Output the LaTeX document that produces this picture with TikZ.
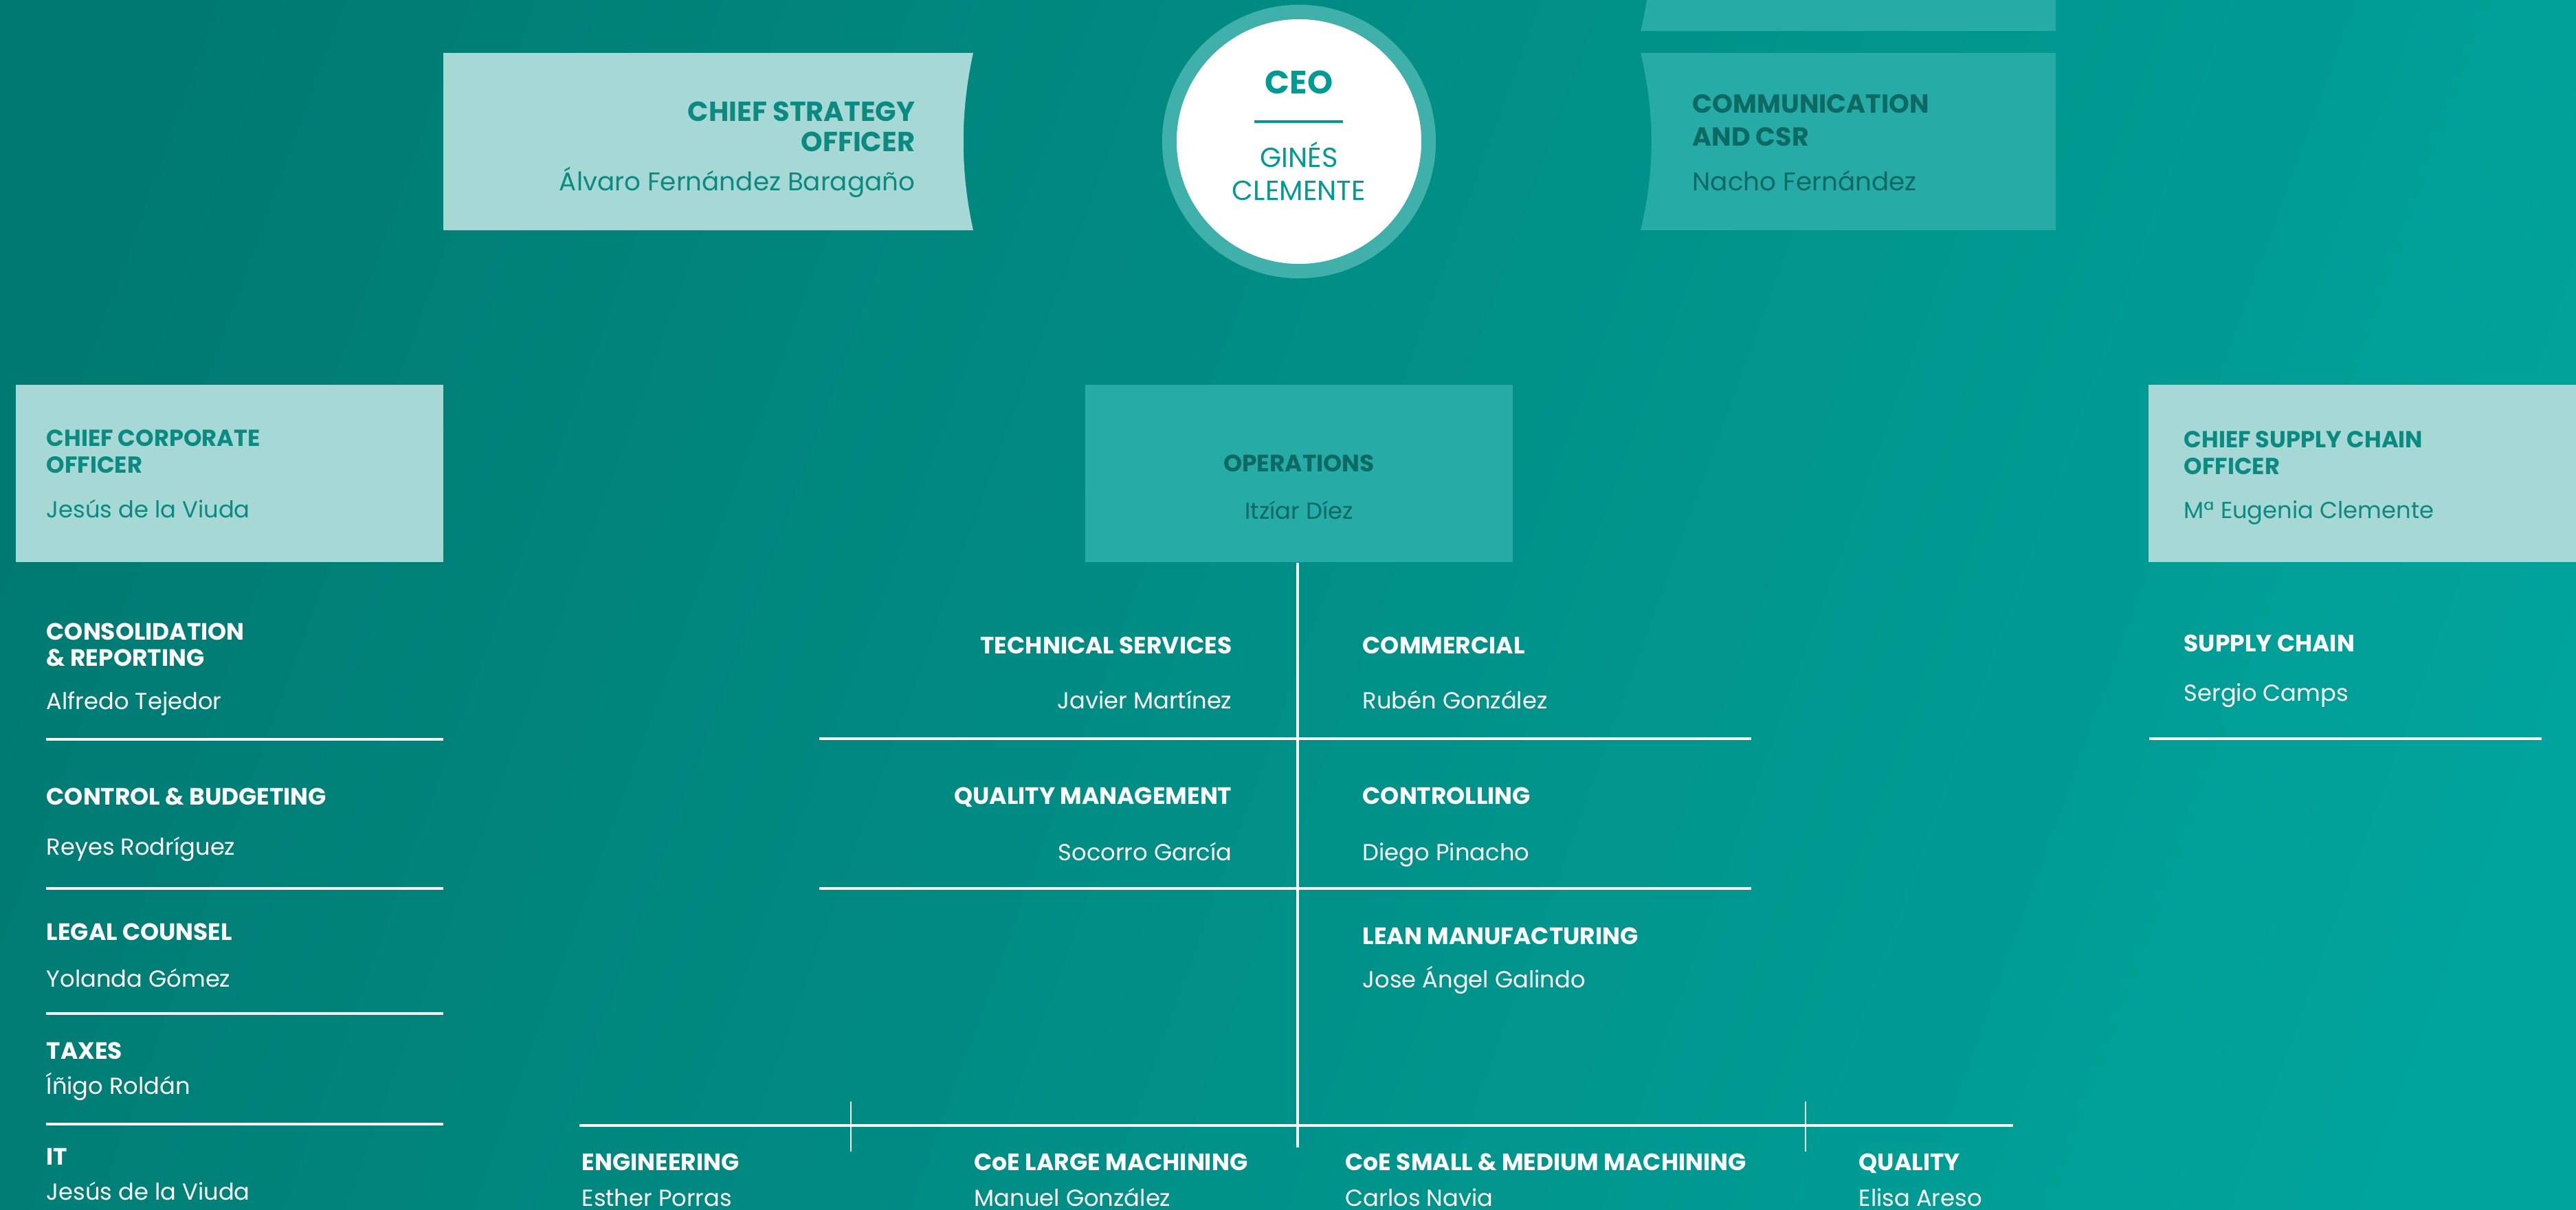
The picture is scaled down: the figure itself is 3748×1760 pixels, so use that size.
\documentclass[tikz,border=0pt]{standalone}
\usepackage{fontspec}
\setmainfont{Poppins}

\definecolor{bgdark}{HTML}{007A71}
\definecolor{bgmid}{HTML}{009F97}
\definecolor{bglight}{HTML}{00A49C}
\definecolor{pale}{HTML}{A6D8D6}
\definecolor{mid}{HTML}{26ABA6}
\definecolor{ring}{HTML}{40B0AA}
\definecolor{inkteal}{HTML}{0A8A80}
\definecolor{inkdark}{HTML}{0C6A62}
\definecolor{ceoink}{HTML}{009C93}

\tikzset{
  ttl/.style={inner sep=0pt, anchor=base west, text=white, font=\bfseries\fontsize{9.8}{11}\selectfont},
  who/.style={inner sep=0pt, anchor=base west, text=white, font=\fontsize{9.6}{11}\selectfont},
  chiefttl/.style={ttl, text=inkteal, font=\bfseries\fontsize{9.6}{11}\selectfont},
  bigttl/.style={ttl, font=\bfseries\fontsize{11.4}{13}\selectfont},
  bigwho/.style={who, font=\fontsize{10.6}{12}\selectfont},
  sep/.style={draw=white, line width=1.3pt},
  tick/.style={draw=white, line width=0.7pt},
  box/.style={inner sep=0pt, minimum width=6.22cm, minimum height=2.58cm},
}

\begin{document}
\begin{tikzpicture}[x=0.01cm,y=-0.01cm]
\useasboundingbox (0,0) rectangle (3748,1760);
\clip (0,0) rectangle (3748,1760);
\shade[left color=bgdark, middle color=bgmid, right color=bglight, shading angle=70] (-200,-200) rectangle (3948,1960);

% top row: strategy, CEO, communication
\fill[pale] (645,77) -- (1416,77) .. controls (1397,163) and (1397,249) .. (1416,335) -- (645,335) -- cycle;
\fill[mid] (2387,-213) .. controls (2408,-127) and (2408,-41) .. (2387,45) -- (2991,45) -- (2991,-213) -- cycle;
\fill[mid] (2387,77) .. controls (2408,163) and (2408,249) .. (2387,335) -- (2991,335) -- (2991,77) -- cycle;

\node[bigttl, anchor=base east, text=inkteal] (cso1) at (1332,176) {CHIEF STRATEGY};
\node[bigttl, anchor=base east, text=inkteal] (cso2) at (1332,220) {OFFICER};
\node[bigwho, anchor=base east, text=inkteal] (cson) at (1332,277) {Álvaro Fernández Baragaño};

\node[bigttl, text=inkdark, font=\bfseries\fontsize{10.8}{12}\selectfont] (csr1) at (2462,164) {COMMUNICATION};
\node[bigttl, text=inkdark, font=\bfseries\fontsize{10.8}{12}\selectfont] (csr2) at (2462,212) {AND CSR};
\node[bigwho, text=inkdark] (csrn) at (2462,277) {Nacho Fernández};

\node[circle, fill=white, draw=ring, line width=0.21cm, minimum size=3.77cm, inner sep=0pt] (ceo) at (1890,206) {};
\node[inner sep=0pt, anchor=base, text=ceoink, font=\bfseries\fontsize{13.4}{15}\selectfont] (ceot) at (1890,136) {CEO};
\draw[ceoink, line width=0.9pt] (1825,177) -- (1954,177);
\node[inner sep=0pt, anchor=base, text=ceoink, font=\fontsize{11.4}{13}\selectfont] (ceo1) at (1890,243) {GINÉS};
\node[inner sep=0pt, anchor=base, text=ceoink, font=\fontsize{11.4}{13}\selectfont] (ceo2) at (1890,291) {CLEMENTE};

% second row of boxes
\node[box, fill=pale] (cco) at (334,689) {};
\node[box, fill=mid] (ops) at (1890,689) {};
\node[box, fill=pale] (csco) at (3437,689) {};

\node[chiefttl] (cco1) at (67,649) {CHIEF CORPORATE};
\node[chiefttl] (cco2) at (67,688) {OFFICER};
\node[who, text=inkteal] (ccon) at (67,753) {Jesús de la Viuda};

\node[ttl, anchor=base, text=inkdark] (ops1) at (1890,686) {OPERATIONS};
\node[who, anchor=base, text=inkdark] (opsn) at (1890,755) {Itzíar Díez};

\node[chiefttl] (csc1) at (3177,651) {CHIEF SUPPLY CHAIN};
\node[chiefttl] (csc2) at (3177,690) {OFFICER};
\node[who, text=inkteal] (cscn) at (3177,754) {Mª Eugenia Clemente};

% corporate column
\node[ttl] (cr1) at (67,931) {CONSOLIDATION};
\node[ttl] (cr2) at (67,969) {\& REPORTING};
\node[who] (crn) at (67,1032) {Alfredo Tejedor};
\draw[sep] (67,1076) -- (645,1076);
\node[ttl] (cb) at (67,1171) {CONTROL \& BUDGETING};
\node[who] (cbn) at (67,1244) {Reyes Rodríguez};
\draw[sep] (67,1293) -- (645,1293);
\node[ttl] (lc) at (67,1368) {LEGAL COUNSEL};
\node[who] (lcn) at (67,1436) {Yolanda Gómez};
\draw[sep] (67,1475) -- (645,1475);
\node[ttl] (tx) at (67,1541) {TAXES};
\node[who] (txn) at (67,1592) {Íñigo Roldán};
\draw[sep] (67,1636) -- (645,1636);
\node[ttl] (it) at (67,1695) {IT};
\node[who] (itn) at (67,1746) {Jesús de la Viuda};

% operations block
\node[ttl, anchor=base east] (ts) at (1793,951) {TECHNICAL SERVICES};
\node[who, anchor=base east] (tsn) at (1793,1031) {Javier Martínez};
\node[ttl] (cm) at (1982,951) {COMMERCIAL};
\node[who] (cmn) at (1982,1031) {Rubén González};
\draw[sep] (1192,1075) -- (2548,1075);
\node[ttl, anchor=base east] (qm) at (1793,1170) {QUALITY MANAGEMENT};
\node[who, anchor=base east] (qmn) at (1793,1252) {Socorro García};
\node[ttl] (ct) at (1982,1170) {CONTROLLING};
\node[who] (ctn) at (1982,1252) {Diego Pinacho};
\draw[sep] (1192,1293) -- (2548,1293);
\node[ttl] (lm) at (1982,1374) {LEAN MANUFACTURING};
\node[who] (lmn) at (1982,1437) {Jose Ángel Galindo};

\coordinate (opsend) at (1888,1670);
\coordinate (busl) at (843,1638);
\coordinate (busr) at (2929,1638);
\draw[sep] (ops.south -| opsend) -- (opsend);
\draw[sep] (busl) -- (busr);
\draw[tick] (1238,1603) -- (1238,1676);
\draw[tick] (2627,1603) -- (2627,1676);

\node[ttl] (en) at (846,1703) {ENGINEERING};
\node[who] (enn) at (846,1755) {Esther Porras};
\node[ttl] (lg) at (1417,1703) {CoE LARGE MACHINING};
\node[who] (lgn) at (1417,1755) {Manuel González};
\node[ttl] (sm) at (1957,1703) {CoE SMALL \& MEDIUM MACHINING};
\node[who] (smn) at (1957,1755) {Carlos Navia};
\node[ttl] (ql) at (2704,1703) {QUALITY};
\node[who] (qln) at (2704,1755) {Elisa Areso};

% supply chain
\node[ttl] (sc) at (3177,948) {SUPPLY CHAIN};
\node[who] (scn) at (3177,1020) {Sergio Camps};
\draw[sep] (3127,1075) -- (3698,1075);
\end{tikzpicture}
\end{document}
